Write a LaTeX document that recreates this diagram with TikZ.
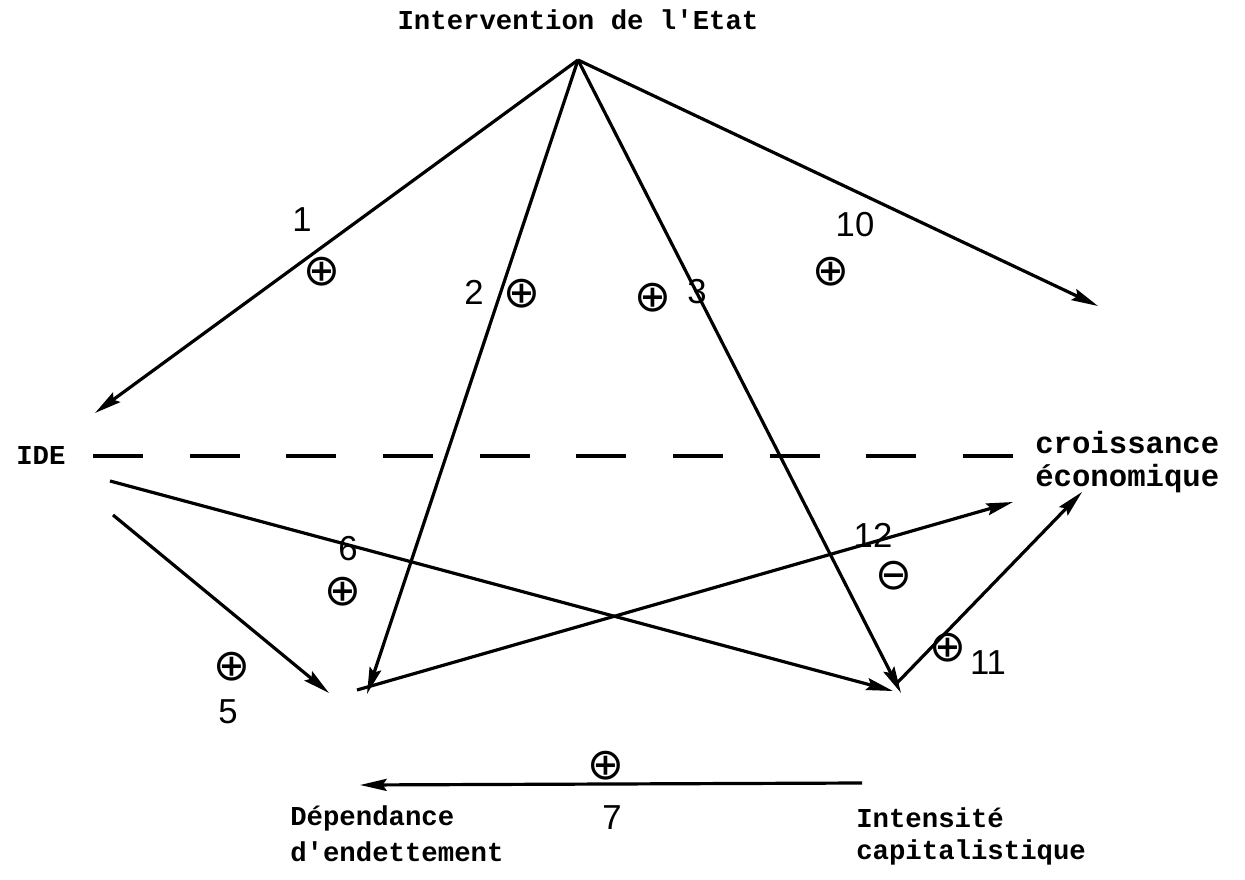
\documentclass[tikz,border=0pt]{standalone}
\usepackage{fontspec}
\setmonofont{Liberation Mono}
\newfontfamily\handfont{Liberation Sans}
\newfontfamily\symfont{DejaVu Sans}
\usetikzlibrary{arrows.meta}
\begin{document}
\begin{tikzpicture}[x=0.75pt,y=-0.75pt,
  lbl/.style={font=\ttfamily\bfseries\fontsize{20.5pt}{24pt}\selectfont, inner sep=0pt},
  lblbig/.style={font=\ttfamily\bfseries\fontsize{23pt}{27pt}\selectfont, inner sep=0pt},
  num/.style={font=\handfont\fontsize{26pt}{28pt}\selectfont, inner sep=0pt},
  sgn/.style={font=\symfont\fontsize{33pt}{34pt}\selectfont, inner sep=0pt},
  arr/.style={line width=2.4pt, -{Stealth[length=20pt,width=9pt,inset=3pt]}},
  dashline/.style={line width=2.4pt, dash pattern=on 37.5pt off 35pt}]
\useasboundingbox (0,0) rectangle (1245,880);
% texts
\node[lbl] (etat) at (578,20) {Intervention de l'Etat};
\node[lbl, anchor=west] (ide) at (16,455) {IDE};
\node[lblbig, anchor=west] (crois1) at (1035,443) {croissance};
\node[lblbig, anchor=west] (crois2) at (1035,479) {économique};
\node[lbl, anchor=west] (dep1) at (290,818) {Dépendance};
\node[lbl, anchor=west] (dep2) at (290,852) {d'endettement};
\node[lbl, anchor=west] (int1) at (856,818) {Intensité};
\node[lbl, anchor=west] (int2) at (856,852) {capitalistique};
% endpoints
\coordinate (apex) at (578,60);
\coordinate (tIDE) at (95,413);
\coordinate (tDep2) at (367,694);
\coordinate (tInt3) at (901,693);
\coordinate (tCro10) at (1098,306);
\coordinate (sIDE5) at (113,515);
\coordinate (tDep5) at (329,693);
\coordinate (sIDE6) at (110,481);
\coordinate (tInt6) at (893,691);
\coordinate (sDep12) at (357,690);
\coordinate (tCro12) at (1013,502);
\coordinate (sInt11) at (897,683);
\coordinate (tCro11) at (1082,492);
\coordinate (sInt7) at (862,783);
\coordinate (tDep7) at (360,785);
\coordinate (dA) at (93,456);
\coordinate (dB) at (1015,456);
% connectors
\draw[arr] (apex) -- (tIDE);
\draw[arr] (apex) -- (tDep2);
\draw[arr] (apex) -- (tInt3);
\draw[arr] (apex) -- (tCro10);
\draw[arr] (sIDE5) -- (tDep5);
\draw[arr] (sIDE6) -- (tInt6);
\draw[arr] (sDep12) -- (tCro12);
\draw[arr] (sInt11) -- (tCro11);
\draw[arr] (sInt7) -- (tDep7);
\draw[dashline] (dA) -- (dB);
% handwritten labels
\node[num] (n1) at (302,220) {1};
\node[sgn] (s1) at (322,272) {⊕};
\node[num] (n2) at (474,292) {2};
\node[sgn] (s2) at (522,294) {⊕};
\node[sgn] (s3) at (653,298) {⊕};
\node[num] (n3) at (697,292) {3};
\node[num] (n10) at (855,225) {10};
\node[sgn] (s10) at (831,272) {⊕};
\node[num] (n6) at (348,549) {6};
\node[sgn] (s6) at (343,592) {⊕};
\node[sgn] (s5) at (232,667) {⊕};
\node[num] (n5) at (228,712) {5};
\node[num] (n12) at (873,535) {12};
\node[sgn] (s12) at (894,576) {⊖};
\node[sgn] (s11) at (948,648) {⊕};
\node[num] (n11) at (988,663) {11};
\node[sgn] (s7) at (606,766) {⊕};
\node[num] (n7) at (612,818) {7};
\end{tikzpicture}
\end{document}
